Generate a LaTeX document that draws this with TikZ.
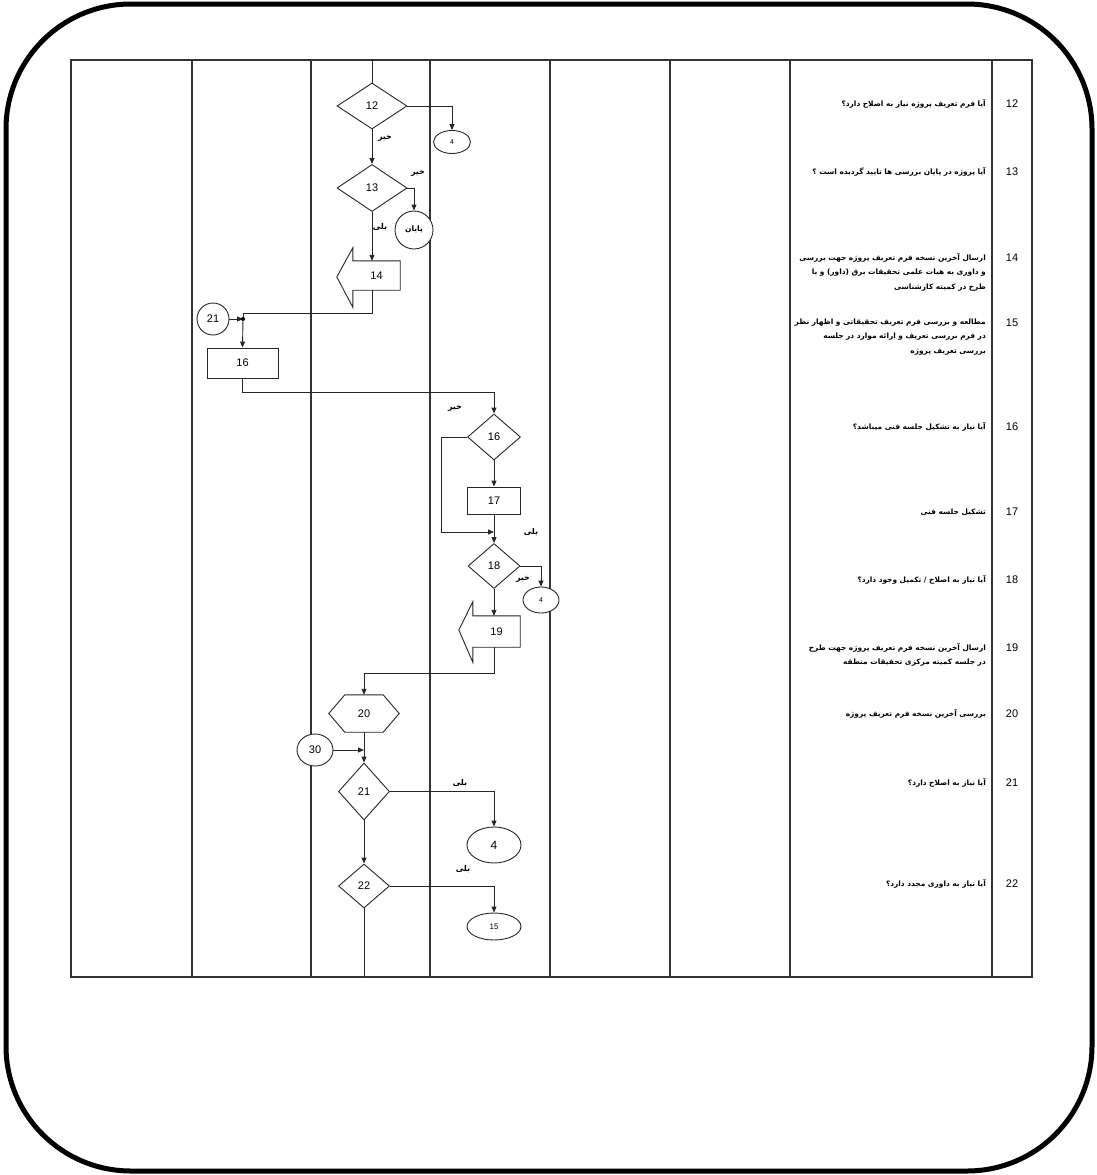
\documentclass[tikz,border=0pt]{standalone}
\usepackage{fontspec}
\setmainfont{Liberation Sans}
\newfontfamily\arfont[Script=Arabic]{DejaVu Sans}
\TeXXeTstate=1
\usetikzlibrary{shapes.geometric,arrows.meta,calc}
\tikzset{
  ln/.style={line width=0.9pt, draw=black!85},
  arr/.style={ln, -{Triangle[length=6pt,width=5pt]}},
  tbl/.style={line width=1.2pt, draw=black!80},
  dia/.style={diamond, ln, draw, fill=white, inner sep=0pt, font=\fontsize{11}{12}\selectfont},
  box/.style={rectangle, ln, draw, fill=white, inner sep=0pt, font=\fontsize{11}{12}\selectfont},
  body/.style={rectangle, draw=none, inner sep=0pt, font=\fontsize{11}{12}\selectfont},
  ov/.style={ellipse, ln, draw, fill=white, inner sep=0pt, font=\fontsize{11}{12}\selectfont},
  lab/.style={font=\arfont\bfseries\fontsize{8}{9}\selectfont, inner sep=0pt},
  rt/.style={anchor=east, align=right, inner sep=0pt, font=\arfont\bfseries\fontsize{7.4}{14.5}\selectfont},
  num/.style={inner sep=0pt, font=\fontsize{11}{12}\selectfont}
}
\begin{document}
\begin{tikzpicture}[x=1pt,y=-1pt]
\useasboundingbox (0,0) rectangle (1097,1175);
% outer frame
\draw[line width=5pt, rounded corners=125pt] (6,4) rectangle (1092,1171);
% table
\draw[tbl] (71,60) rectangle (1032,977);
\foreach \xx in {192,311,430,550,670,790,992} \draw[tbl] (\xx,60) -- (\xx,977);

% flow nodes
\coordinate (top12) at (372,60);
\node[dia, minimum width=70pt, minimum height=46pt] (d12) at (372,106) {12};
\node[ov, minimum width=37pt, minimum height=23pt, font=\fontsize{7}{8}\selectfont] (o4a) at (452,142) {4};
\node[dia, minimum width=70pt, minimum height=47pt] (d13) at (372,188) {13};
\node[circle, ln, draw, fill=white, inner sep=0pt, minimum size=38pt, font=\arfont\bfseries\fontsize{7.5}{8}\selectfont] (endc) at (414,230) {\beginR پایان\endR};
\node[body, minimum width=47pt, minimum height=29pt] (b14) at (376.5,275.5) {14};
\draw[ln, fill=white] (b14.north east) -- (b14.north west) -- ++(0,-13) -- ($(b14.west)+(-16,1.5)$) -- ($(b14.south west)+(0,17)$) -- (b14.south west) -- (b14.south east) -- cycle;
\node[body] at (b14) {14};
\node[circle, ln, draw, fill=white, inner sep=0pt, minimum size=32pt, font=\fontsize{11}{12}\selectfont] (c21) at (213,319) {21};
\coordinate (j) at (243,319);
\node[box, minimum width=71pt, minimum height=30pt] (b16) at (242.5,363) {16};
\node[dia, minimum width=53pt, minimum height=46pt] (d16b) at (494,437) {16};
\node[box, minimum width=53pt, minimum height=27pt] (b17) at (494,500.5) {17};
\coordinate (m) at (494,532);
\node[dia, minimum width=52pt, minimum height=45pt] (d18) at (494,566) {18};
\node[ov, minimum width=36pt, minimum height=26pt, font=\fontsize{7}{8}\selectfont] (c4b) at (541,600) {4};
\node[body, minimum width=47pt, minimum height=31pt] (b19) at (496.5,631.5) {19};
\draw[ln, fill=white] (b19.north east) -- (b19.north west) -- ++(0,-14) -- ($(b19.west)+(-14,-1.5)$) -- ($(b19.south west)+(0,15)$) -- (b19.south west) -- (b19.south east) -- cycle;
\node[body] at (b19) {19};
\node[body, minimum width=70pt, minimum height=37pt] (h20) at (364,713.5) {20};
\draw[ln, fill=white] (h20.west) -- ($(h20.north west)+(16,0)$) -- ($(h20.north east)+(-16,0)$) -- (h20.east) -- ($(h20.south east)+(-16,0)$) -- ($(h20.south west)+(16,0)$) -- cycle;
\node[body] at (h20) {20};
\node[ov, minimum width=36pt, minimum height=32pt] (c30) at (315,750) {30};
\coordinate (k) at (364,750);
\node[dia, minimum width=51pt, minimum height=57pt] (d21) at (364,791.5) {21};
\node[ov, minimum width=54pt, minimum height=36pt, font=\fontsize{12}{13}\selectfont] (o4c) at (494,845) {4};
\node[dia, minimum width=51pt, minimum height=44pt] (d22) at (364,886) {22};
\node[ov, minimum width=54pt, minimum height=27pt, font=\fontsize{8}{9}\selectfont] (o15) at (494,926.5) {15};
\coordinate (bot) at (364,977);

% connectors
\draw[ln] (top12) -- (d12.north);
\draw[arr] (d12.east) -| (o4a.north);
\draw[arr] (d12.south) -- (d13.north);
\draw[arr] (d13.east) -| (endc.north);
\draw[arr] (d13.south) -- (d13.south |- b14.north);
\draw[ln] (d13.south |- b14.south) -- ++(0,23) -| (j);
\draw[arr] (c21.east) -- (j);
\fill (j) circle (2);
\draw[arr] (j) -- (b16.north);
\draw[arr] (b16.south) -- ++(0,14) -| (d16b.north);
\draw[arr] (d16b.west) -- ++(-26,0) |- (m);
\draw[arr] (d16b.south) -- (b17.north);
\draw[arr] (b17.south) -- (d18.north);
\draw[arr] (d18.east) -| (c4b.north);
\draw[arr] (d18.south) -- (d18.south |- b19.north);
\draw[arr] (d18.south |- b19.south) -- ++(0,26) -| (h20.north);
\draw[arr] (h20.south) -- (d21.north);
\draw[arr] (c30.east) -- (k);
\draw[arr] (d21.east) -| (o4c.north);
\draw[arr] (d21.south) -- (d22.north);
\draw[arr] (d22.east) -| (o15.north);
\draw[ln] (d22.south) -- (bot);

% branch labels
\node[lab] (l1) at (385,138) {\beginR خیر\endR};
\node[lab] (l2) at (418,173) {\beginR خیر\endR};
\node[lab] (l3) at (380,227) {\beginR بلی\endR};
\node[lab] (l4) at (455,408) {\beginR خیر\endR};
\node[lab] (l5) at (531,532) {\beginR بلی\endR};
\node[lab] (l6) at (523,579) {\beginR خیر\endR};
\node[lab] (l7) at (460,783) {\beginR بلی\endR};
\node[lab] (l8) at (463,869) {\beginR بلی\endR};

% right column
\node[num] (n12) at (1012,104) {12};
\node[num] (n13) at (1012,172) {13};
\node[num] (n14) at (1012,258) {14};
\node[num] (n15) at (1012,323) {15};
\node[num] (n16) at (1012,427) {16};
\node[num] (n17) at (1012,512) {17};
\node[num] (n18) at (1012,580) {18};
\node[num] (n19) at (1012,648) {19};
\node[num] (n20) at (1012,714) {20};
\node[num] (n21) at (1012,783) {21};
\node[num] (n22) at (1012,884) {22};

\node[rt] (t12) at (986,104) {\beginR آیا فرم تعریف پروژه نیاز به اصلاح دارد؟\endR};
\node[rt] (t13) at (986,172) {\beginR آیا پروژه در پایان بررسی ها تایید گردیده است ؟\endR};
\node[rt] (t14) at (986,272) {\beginR ارسال آخرین نسخه فرم تعریف پروژه جهت بررسی\endR\\\beginR و داوری به هیات علمی تحقیقات برق (داور) و یا\endR\\\beginR طرح در کمیته کارشناسی\endR};
\node[rt] (t15) at (986,337) {\beginR مطالعه و بررسی فرم تعریف تحقیقاتی و اظهار نظر\endR\\\beginR در فرم بررسی تعریف و ارائه موارد در جلسه\endR\\\beginR بررسی تعریف پروژه\endR};
\node[rt] (t16) at (986,427) {\beginR آیا نیاز به تشکیل جلسه فنی میباشد؟\endR};
\node[rt] (t17) at (986,512) {\beginR تشکیل جلسه فنی\endR};
\node[rt] (t18) at (986,580) {\beginR آیا نیاز به اصلاح / تکمیل وجود دارد؟\endR};
\node[rt] (t19) at (986,655) {\beginR ارسال آخرین نسخه فرم تعریف پروژه جهت طرح\endR\\\beginR در جلسه کمیته مرکزی تحقیقات منطقه\endR};
\node[rt] (t20) at (986,714) {\beginR بررسی آخرین نسخه فرم تعریف پروژه\endR};
\node[rt] (t21) at (986,783) {\beginR آیا نیاز به اصلاح دارد؟\endR};
\node[rt] (t22) at (986,884) {\beginR آیا نیاز به داوری مجدد دارد؟\endR};
\end{tikzpicture}
\end{document}
